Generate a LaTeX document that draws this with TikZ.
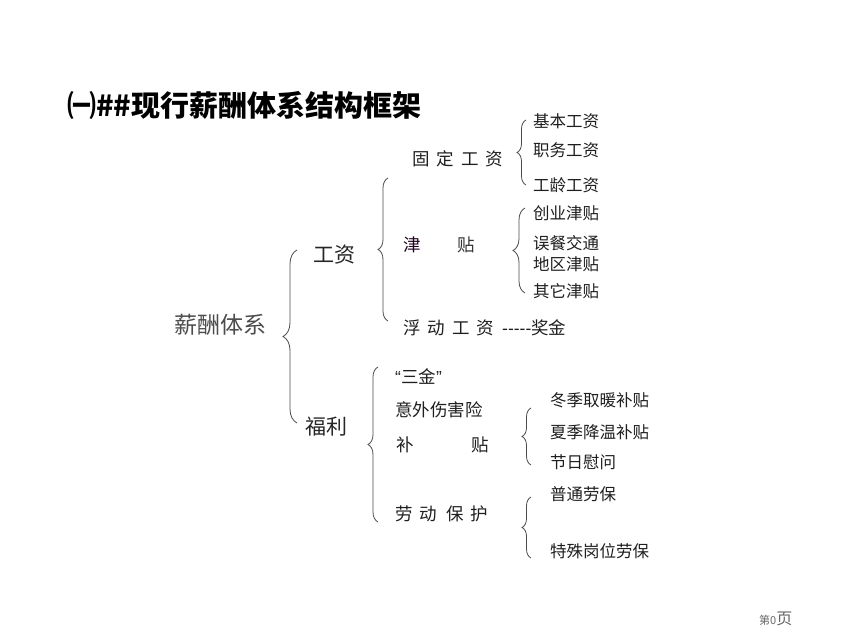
\documentclass[tikz,border=0pt]{standalone}
\usepackage{fontspec}
\setmainfont[Ligatures=TeXOff]{Noto Sans CJK SC}
\newfontfamily\latf{Liberation Sans}
\usetikzlibrary{decorations.pathreplacing}
\tikzset{
  brc/.style={decorate, decoration={brace, amplitude=#1}, draw=black!70, line width=0.8pt},
  lbl/.style={anchor=west, inner sep=0pt, text=black!88, font=\fontsize{16.5}{18}\selectfont},
  mid/.style={anchor=west, inner sep=0pt, text=black!88, font=\fontsize{17.5}{20}\selectfont},
  big/.style={anchor=west, inner sep=0pt, text=black!85, font=\fontsize{21}{24}\selectfont}
}
\newcommand{\gp}[1]{\hspace{#1pt}}
\begin{document}
\begin{tikzpicture}[x=1pt,y=-1pt]
\useasboundingbox[fill=white] (0,0) rectangle (861,640);
% title
\node[anchor=west, inner sep=0pt, font=\fontsize{29}{31}\selectfont\bfseries] (title) at (67,105) {㈠\#\#现行薪酬体系结构框架};
% root
\node[anchor=west, inner sep=0pt, text=black!70, font=\fontsize{23}{26}\selectfont] (root) at (174,325) {薪酬体系};
\draw[brc=14] (297,423) -- (297,250);
\node[big] (gz) at (313,255) {工资};
\node[big] (fl) at (305,427) {福利};
% salary branch
\draw[brc=10] (388,321) -- (388,178);
\node[mid] (gd) at (412,159) {固\gp{7}定\gp{7}工\gp{7}资};
\node[mid, text=black!75!violet] (jt1) at (403,245) {津};
\node[mid, text=black!80] (jt2) at (457,245) {贴};
\node[mid] (fd) at (403,328) {浮\gp{7}动\gp{7}工\gp{7}资\gp{8}{\latf -----}奖金};
\draw[brc=9] (526,185) -- (526,120);
\node[lbl] (jb) at (533,121) {基本工资};
\node[lbl] (zw) at (533,150) {职务工资};
\node[lbl] (gl) at (533,185) {工龄工资};
\draw[brc=12] (525,293) -- (525,208);
\node[lbl] (cy) at (533,213) {创业津贴};
\node[lbl] (wc) at (533,243) {误餐交通};
\node[lbl] (dq) at (533,264) {地区津贴};
\node[lbl] (qt) at (533,291) {其它津贴};
% welfare branch
\draw[brc=10] (378,522) -- (378,367);
\node[mid] (sj) at (395,377) {{\latf “}三金{\latf ”}};
\node[mid] (yw) at (395,410) {意外伤害险};
\node[mid] (bt1) at (396,445) {补};
\node[mid] (bt2) at (471,445) {贴};
\node[mid] (ld) at (395,514) {劳\gp{7}动\gp{9}保\gp{7}护};
\draw[brc=9] (531,465) -- (531,408);
\node[lbl] (dj) at (550,400) {冬季取暖补贴};
\node[lbl] (xj) at (550,432) {夏季降温补贴};
\node[lbl] (jr) at (550,462) {节日慰问};
\draw[brc=9] (531,558) -- (531,497);
\node[lbl] (pt) at (550,494) {普通劳保};
\node[lbl] (ts) at (550,551) {特殊岗位劳保};
% page number
\node[anchor=west, inner sep=0pt, text=black!60] (pg) at (759,619) {{\fontsize{11}{12}\selectfont 第0}{\fontsize{16}{18}\selectfont 页}};
\end{tikzpicture}
\end{document}
